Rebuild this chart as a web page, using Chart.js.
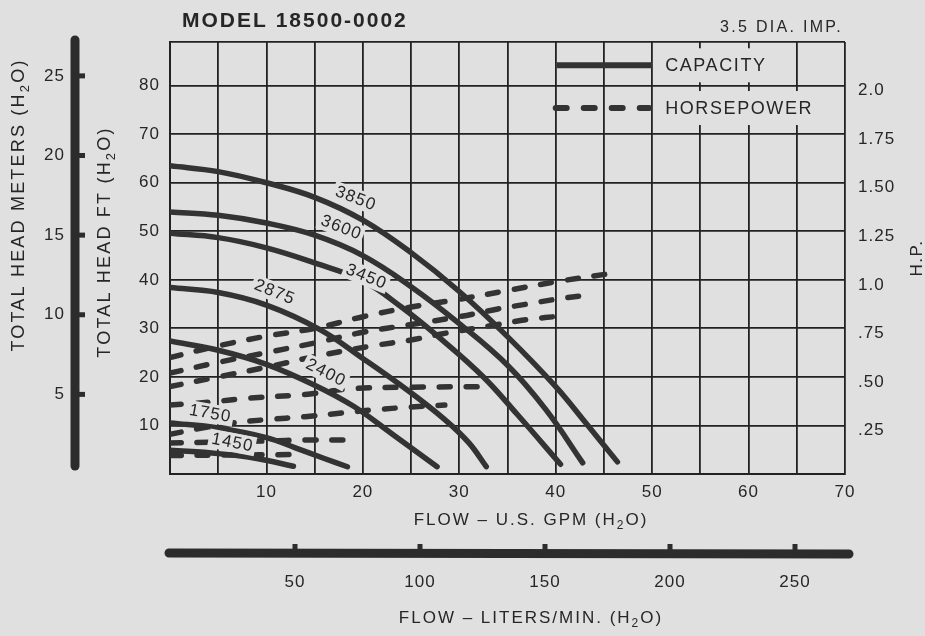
<!DOCTYPE html>
<html><head><meta charset="utf-8">
<script src="https://cdn.jsdelivr.net/npm/chart.js@4.4.1/dist/chart.umd.min.js"></script>
<style>html,body{margin:0;padding:0;background:#e0e0e0;}canvas{display:block;}</style>
</head><body>
<canvas id="c" width="925" height="636"></canvas>
<script>
// ---------- DATA ----------
// Capacity curves: flow (US GPM) vs total head (ft)
const cap3850Flow = [0, 5, 10, 15, 20, 25, 30, 35, 40, 43, 46.4];
const cap3850Head = [63.5, 62.3, 60, 57, 52.3, 45.6, 37.6, 28.3, 18, 10.8, 2.5];
const cap3600Flow = [0, 5, 10, 15, 20, 25, 30, 35, 39, 42.8];
const cap3600Head = [54, 53.3, 51.7, 49.2, 45, 38.6, 31, 22.4, 13.2, 2.3];
const cap3450Flow = [0, 5, 10, 15, 20, 24, 28, 32.5, 36, 40.5];
const cap3450Head = [49.6, 48.7, 46.6, 43.5, 39.8, 34.4, 28, 20, 12.3, 2];
const cap2875Flow = [0, 5, 10, 15.6, 20, 24.6, 28.5, 31, 32.8];
const cap2875Head = [38.4, 37.4, 34.8, 29.7, 23.8, 17.3, 11.2, 6.4, 1.5];
const cap2400Flow = [0, 5, 10, 15, 19, 23, 27.7];
const cap2400Head = [27.4, 25.5, 22.6, 18.3, 14, 8.3, 1.5];
const cap1750Flow = [0, 5, 10, 13, 16, 18.4];
const cap1750Head = [10.5, 9.5, 7.5, 5.4, 3.2, 1.5];
const cap1450Flow = [0, 5, 9, 12.8];
const cap1450Head = [4.9, 4.2, 3.2, 1.6];

// Horsepower curves: flow (US GPM) vs H.P.
const hp3850Flow = [0, 5, 10, 15, 20, 25, 30, 35, 40, 46];
const hp3850 = [0.60, 0.66, 0.71, 0.75, 0.81, 0.86, 0.90, 0.945, 0.99, 1.035];
const hp3600Flow = [0, 5, 10, 15, 20, 25, 30, 34, 37, 40, 43];
const hp3600 = [0.52, 0.575, 0.625, 0.675, 0.73, 0.77, 0.81, 0.85, 0.875, 0.90, 0.92];
const hp3450Flow = [0, 5, 10, 15, 21, 25, 28, 34, 37, 40.8];
const hp3450 = [0.45, 0.50, 0.55, 0.605, 0.66, 0.69, 0.72, 0.77, 0.795, 0.815];
const hp2875Flow = [0, 4, 8, 14, 19, 25, 33.4];
const hp2875 = [0.355, 0.37, 0.39, 0.41, 0.44, 0.447, 0.45];
const hp2400Flow = [0, 6, 10, 14, 18, 21, 25, 28.5];
const hp2400 = [0.205, 0.26, 0.28, 0.295, 0.315, 0.33, 0.345, 0.355];
const hp1750Flow = [0, 5, 10, 14, 18.2];
const hp1750 = [0.16, 0.165, 0.17, 0.175, 0.175];
const hp1450Flow = [0, 6, 12.6];
const hp1450 = [0.095, 0.0975, 0.10];

const speeds = ['3850', '3600', '3450', '2875', '2400', '1750', '1450'];

// Tick labels
const gpmTickLabels = [10, 20, 30, 40, 50, 60, 70];
const literTickLabels = [50, 100, 150, 200, 250];
const ftTickLabels = [10, 20, 30, 40, 50, 60, 70, 80];
const meterTickLabels = [5, 10, 15, 20, 25];
const hpTickValues = [0.25, 0.5, 0.75, 1.0, 1.25, 1.5, 1.75, 2.0];
const hpTickLabels = ['.25', '.50', '.75', '1.0', '1.25', '1.50', '1.75', '2.0'];

// ---------- STYLE / LAYOUT ----------
const PAPER = '#e0e0e0';
const INK = '#262626';
const GRID = '#222222';
const CURVE = '#333333';
const FONT = "'Liberation Sans', Arial, Helvetica, sans-serif";
const FT_MAX = 89;            // top of the grid in feet
const FT_PER_M = 3.2808;
const HP_PER_FT = 1 / 40;     // 80 ft gridline == 2.0 HP

const capSets = [
  [cap3850Flow, cap3850Head], [cap3600Flow, cap3600Head], [cap3450Flow, cap3450Head],
  [cap2875Flow, cap2875Head], [cap2400Flow, cap2400Head], [cap1750Flow, cap1750Head],
  [cap1450Flow, cap1450Head]
];
const hpSets = [
  [hp3850Flow, hp3850], [hp3600Flow, hp3600], [hp3450Flow, hp3450], [hp2875Flow, hp2875],
  [hp2400Flow, hp2400], [hp1750Flow, hp1750], [hp1450Flow, hp1450]
];

const datasets = [];
capSets.forEach(([f, h], i) => datasets.push({
  label: speeds[i] + ' RPM capacity',
  data: f.map((x, k) => ({x, y: h[k]})),
  xAxisID: 'x', yAxisID: 'y',
  borderColor: CURVE, borderWidth: 5.5, pointRadius: 0, tension: 0.4,
  borderCapStyle: 'round', borderJoinStyle: 'round', fill: false
}));
hpSets.forEach(([f, h], i) => datasets.push({
  label: speeds[i] + ' RPM horsepower',
  data: f.map((x, k) => ({x, y: h[k]})),
  xAxisID: 'x', yAxisID: 'yhp',
  borderColor: CURVE, borderWidth: 5.5, pointRadius: 0, borderDash: [11, 16], tension: 0.35,
  borderCapStyle: 'round', borderJoinStyle: 'round', fill: false
}));

// curve label placement (data coords of the label centre, rotation in degrees)
const curveLabelPlacement = [
  {x: 19.3, y: 56.9, rot: 21}, {x: 17.8, y: 50.9, rot: 21}, {x: 20.4, y: 40.8, rot: 22},
  {x: 10.9, y: 37.6, rot: 22}, {x: 16.2, y: 21.0, rot: 27}, {x: 4.2, y: 12.6, rot: 10},
  {x: 6.5, y: 6.6, rot: 11}
];

function rich(ctx, parts, x, y, rot, align, size, spacing, weight) {
  ctx.save();
  ctx.translate(x, y);
  ctx.rotate(rot);
  ctx.letterSpacing = spacing + 'px';
  ctx.fillStyle = INK;
  ctx.textBaseline = 'middle';
  ctx.textAlign = 'left';
  const f = (p) => (weight || '') + ' ' + (p.sub ? Math.round(size * 0.72) : size) + 'px ' + FONT;
  let w = 0;
  parts.forEach(p => { ctx.font = f(p); w += ctx.measureText(p.t).width; });
  let cx = align === 'center' ? -w / 2 : (align === 'right' ? -w : 0);
  parts.forEach(p => {
    ctx.font = f(p);
    ctx.fillText(p.t, cx, p.sub ? size * 0.33 : 0);
    cx += ctx.measureText(p.t).width;
  });
  ctx.restore();
  return w;
}
const h2o = (pre) => [{t: pre + ' (H'}, {t: '2', sub: true}, {t: 'O)'}];

const decor = {
  id: 'decor',
  beforeDraw(chart) {
    chart.ctx.letterSpacing = '1px';
  },
  afterDatasetsDraw(chart) {
    const ctx = chart.ctx;
    const xs = chart.scales.x, ys = chart.scales.y;
    ctx.save();
    // curve labels with paper patches
    speeds.forEach((s, i) => {
      const p = curveLabelPlacement[i];
      const px = xs.getPixelForValue(p.x), py = ys.getPixelForValue(p.y);
      ctx.save();
      ctx.translate(px, py);
      ctx.rotate(p.rot * Math.PI / 180);
      ctx.font = '17px ' + FONT;
      ctx.letterSpacing = '1.2px';
      const w = ctx.measureText(s).width;
      ctx.fillStyle = PAPER;
      ctx.fillRect(-w / 2 - 3, -9, w + 5, 19);
      ctx.fillStyle = INK;
      ctx.textAlign = 'center';
      ctx.textBaseline = 'middle';
      ctx.fillText(s, 0, 1);
      ctx.restore();
    });
    // legend inside the grid
    const lx0 = xs.getPixelForValue(40), lx1 = xs.getPixelForValue(50);
    const rows = [{t: 'CAPACITY', y: ys.getPixelForValue(84.2), dash: []},
                  {t: 'HORSEPOWER', y: ys.getPixelForValue(75.4), dash: [11, 17]}];
    rows.forEach(r => {
      ctx.font = '18px ' + FONT;
      ctx.letterSpacing = '1.6px';
      const w = ctx.measureText(r.t).width;
      ctx.fillStyle = PAPER;
      ctx.fillRect(lx1 + 5, r.y - 17, w + 16, 34);
      ctx.fillStyle = INK;
      ctx.textAlign = 'left';
      ctx.textBaseline = 'middle';
      ctx.fillText(r.t, lx1 + 13, r.y + 1);
      ctx.strokeStyle = CURVE;
      ctx.lineWidth = 6;
      ctx.lineCap = r.dash.length ? 'round' : 'butt';
      ctx.setLineDash(r.dash);
      ctx.beginPath();
      ctx.moveTo(lx0 + (r.dash.length ? 0 : 1), r.y);
      ctx.lineTo(lx1 - (r.dash.length ? 3 : 0), r.y);
      ctx.stroke();
      ctx.setLineDash([]);
    });
    ctx.restore();
  },
  afterDraw(chart) {
    const ctx = chart.ctx;
    const ca = chart.chartArea;
    const ym = chart.scales.ym, xl = chart.scales.xl;
    ctx.save();
    ctx.letterSpacing = '0px';
    // meters bar
    const bx = ym.right - 15;
    ctx.strokeStyle = '#2c2c2c';
    ctx.lineCap = 'round';
    ctx.lineWidth = 9;
    ctx.beginPath();
    ctx.moveTo(bx, ca.top - 2);
    ctx.lineTo(bx, ca.bottom - 8);
    ctx.stroke();
    ctx.fillStyle = '#2c2c2c';
    meterTickLabels.forEach(v => {
      const y = ym.getPixelForValue(v);
      ctx.fillRect(bx + 3, y - 2.5, 7, 5);
    });
    // liters bar
    const by = xl.top + 17;
    ctx.lineWidth = 9;
    ctx.beginPath();
    ctx.moveTo(ca.left - 1, by);
    ctx.lineTo(ca.right + 4, by + 1);
    ctx.stroke();
    literTickLabels.forEach(v => {
      const x = xl.getPixelForValue(v);
      ctx.fillRect(x - 2.5, by - 9, 5, 6);
    });
    // titles
    rich(ctx, [{t: 'MODEL 18500-0002'}], 182, 21, 0, 'left', 21, 2, 'bold');
    rich(ctx, [{t: '3.5 DIA. IMP.'}], 843, 28, 0, 'right', 16, 2.3);
    rich(ctx, h2o('TOTAL HEAD METERS'), 19, 205, -Math.PI / 2, 'center', 18, 2.2);
    rich(ctx, h2o('TOTAL HEAD FT'), 105, 242, -Math.PI / 2, 'center', 18, 2.2);
    rich(ctx, h2o('FLOW \u2013 U.S. GPM'), 531, 520, 0, 'center', 17, 2);
    rich(ctx, h2o('FLOW \u2013 LITERS/MIN.'), 531, 618, 0, 'center', 17, 2);
    rich(ctx, [{t: 'H.P.'}], 917, 258, -Math.PI / 2, 'center', 17, 1.5);
    ctx.restore();
  }
};

Chart.defaults.font.family = FONT;
Chart.defaults.color = INK;

new Chart(document.getElementById('c'), {
  type: 'line',
  data: {datasets},
  plugins: [decor],
  options: {
    responsive: false,
    animation: false,
    events: [],
    layout: {padding: {top: 42, left: 0, right: 0, bottom: 0}},
    plugins: {legend: {display: false}, tooltip: {enabled: false}, title: {display: false}},
    scales: {
      x: {
        type: 'linear', position: 'bottom', weight: 0, min: 0, max: 70,
        afterBuildTicks: s => { const t = []; for (let v = 0; v <= 70; v += 5) t.push({value: v}); s.ticks = t; },
        afterFit: s => { s.height = 62; },
        ticks: {autoSkip: false, maxRotation: 0, padding: 8, font: {size: 17},
                callback: v => gpmTickLabels.includes(v) ? String(v) : ''},
        grid: {color: GRID, lineWidth: 1.8, drawTicks: false},
        border: {color: GRID, width: 2}
      },
      xl: {
        type: 'linear', position: 'bottom', weight: 1, min: 0, max: 270,
        afterBuildTicks: s => { s.ticks = literTickLabels.map(v => ({value: v})); },
        afterFit: s => { s.height = 100; },
        ticks: {autoSkip: false, maxRotation: 0, padding: 36, font: {size: 17},
                callback: v => String(v)},
        grid: {display: false, drawTicks: false},
        border: {display: false}
      },
      y: {
        type: 'linear', position: 'left', weight: 0, min: 0, max: FT_MAX,
        afterBuildTicks: s => { const t = []; for (let v = 0; v <= 80; v += 10) t.push({value: v}); t.push({value: FT_MAX}); s.ticks = t; },
        afterFit: s => { s.width = 80; },
        ticks: {autoSkip: false, padding: 10, font: {size: 17},
                callback: v => ftTickLabels.includes(v) ? String(v) : ''},
        grid: {color: GRID, lineWidth: 1.8, drawTicks: false},
        border: {color: GRID, width: 2}
      },
      ym: {
        type: 'linear', position: 'left', weight: 1, min: 0, max: FT_MAX / FT_PER_M,
        afterBuildTicks: s => { s.ticks = meterTickLabels.map(v => ({value: v})); },
        afterFit: s => { s.width = 90; },
        ticks: {autoSkip: false, padding: 25, font: {size: 17}, callback: v => String(v)},
        grid: {display: false, drawTicks: false},
        border: {display: false}
      },
      yhp: {
        type: 'linear', position: 'right', min: 0, max: FT_MAX * HP_PER_FT,
        afterBuildTicks: s => { s.ticks = hpTickValues.map(v => ({value: v})); },
        afterFit: s => { s.width = 80; },
        ticks: {autoSkip: false, padding: 13, labelOffset: 5, font: {size: 17},
                callback: (v, i) => hpTickLabels[i]},
        grid: {display: false, drawTicks: false},
        border: {display: false}
      }
    }
  }
});
</script>
</body></html>
